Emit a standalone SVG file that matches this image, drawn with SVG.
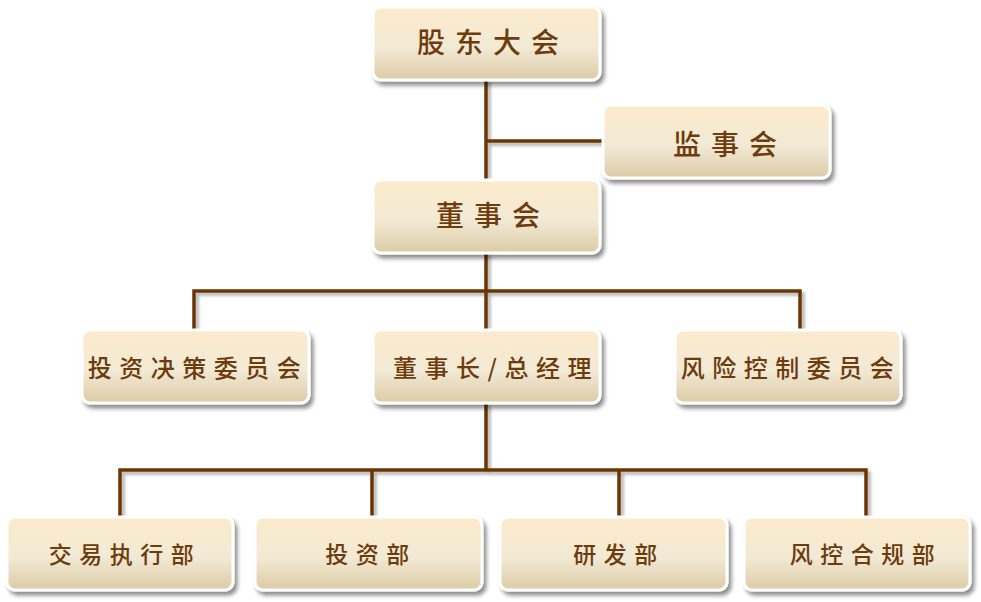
<svg xmlns="http://www.w3.org/2000/svg" width="981" height="602" viewBox="0 0 981 602">
<defs>
<linearGradient id="g" x1="0" y1="0" x2="0" y2="1">
<stop offset="0" stop-color="#fcebcb"/>
<stop offset="0.55" stop-color="#f2ead6"/>
<stop offset="1" stop-color="#dccba5"/>
</linearGradient>
<filter id="sh" x="-10%" y="-10%" width="125%" height="140%">
<feGaussianBlur in="SourceAlpha" stdDeviation="2"/>
<feOffset dx="3" dy="4" result="o"/>
<feComponentTransfer><feFuncA type="linear" slope="0.45"/></feComponentTransfer>
<feMerge><feMergeNode/><feMergeNode in="SourceGraphic"/></feMerge>
</filter>
<filter id="lsh" x="-20%" y="-20%" width="140%" height="140%">
<feGaussianBlur in="SourceAlpha" stdDeviation="1.5"/>
<feOffset dx="3" dy="3" result="o"/>
<feComponentTransfer><feFuncA type="linear" slope="0.3"/></feComponentTransfer>
<feMerge><feMergeNode/><feMergeNode in="SourceGraphic"/></feMerge>
</filter>
</defs>
<style>
.box{fill:url(#g);stroke:#ffffff;stroke-width:3;filter:url(#sh)}
.t{font-family:"Noto Sans CJK SC","Noto Sans CJK TC",sans-serif;font-weight:500;fill:#6e3b0c;text-anchor:middle;dominant-baseline:central}
.t1{font-size:28px;letter-spacing:10px}
.t2{font-size:24px;letter-spacing:7.5px}
.t3{font-size:23px;letter-spacing:7.5px}
.ln{fill:none;stroke:#6b3500;stroke-width:3.5;stroke-linecap:square}
</style>
<g id="connectors" filter="url(#lsh)">
<path class="ln" d="M486 80V180M486 141H603"/>
<path class="ln" d="M486 253V291M194 330V291H800V330M486 291V330"/>
<path class="ln" d="M486 404V470M120 517V470H866V517M372 470V517M619 470V517"/>
</g>
<g id="n1"><rect class="box" x="373" y="7" width="227" height="73" rx="8"/><text class="t t1" x="493" y="41">股东大会</text></g>
<g id="n2"><rect class="box" x="603" y="105" width="227" height="73" rx="8"/><text class="t t1" x="730" y="143">监事会</text></g>
<g id="n3"><rect class="box" x="373" y="180" width="227" height="73" rx="8"/><text class="t t1" x="493" y="214">董事会</text></g>
<g id="n4"><rect class="box" x="82" y="330" width="227" height="73" rx="8"/><text class="t t2" x="198" y="366">投资决策委员会</text></g>
<g id="n5"><rect class="box" x="373" y="330" width="227" height="73" rx="8"/><text class="t t2" x="496" y="366">董事长/总经理</text></g>
<g id="n6"><rect class="box" x="675" y="330" width="226" height="73" rx="8"/><text class="t t2" x="791" y="366">风险控制委员会</text></g>
<g id="n7"><rect class="box" x="7" y="517" width="226" height="73" rx="8"/><text class="t t3" x="125" y="553">交易执行部</text></g>
<g id="n8"><rect class="box" x="255" y="517" width="227" height="73" rx="8"/><text class="t t3" x="371" y="553">投资部</text></g>
<g id="n9"><rect class="box" x="500" y="517" width="227" height="73" rx="8"/><text class="t t3" x="619" y="553">研发部</text></g>
<g id="n10"><rect class="box" x="744" y="517" width="226" height="73" rx="8"/><text class="t t3" x="866" y="553">风控合规部</text></g>
</svg>
